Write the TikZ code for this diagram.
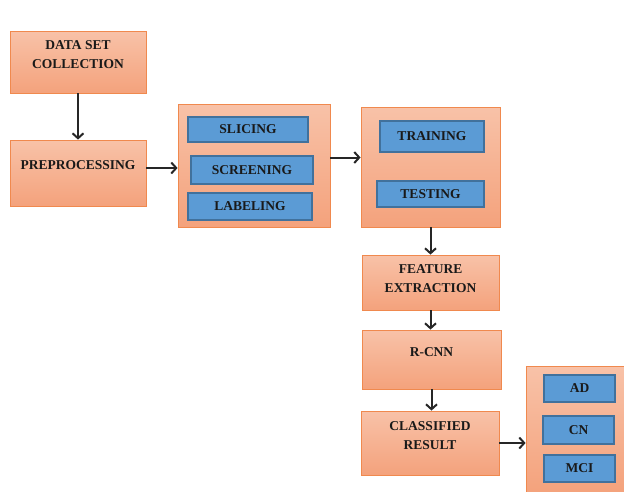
\documentclass[tikz,border=0pt]{standalone}
\usepackage{fontspec}
\setmainfont{Liberation Serif}
\usetikzlibrary{arrows.meta, positioning}

\definecolor{salmontop}{HTML}{F8C2A8}
\definecolor{salmonbot}{HTML}{F4A27C}
\definecolor{salmonline}{HTML}{F0894E}
\definecolor{stepblue}{HTML}{5B9BD5}
\definecolor{stepline}{HTML}{41719C}

\begin{document}
\begin{tikzpicture}[x=1pt, y=-1pt,
  obox/.style={draw=salmonline, line width=0.8pt, top color=salmontop, bottom color=salmonbot, inner sep=0pt},
  bbox/.style={draw=stepline, line width=1.2pt, fill=stepblue, inner sep=0pt, font=\bfseries\fontsize{13.5}{15}\selectfont, text=black!90},
  ttl/.style={anchor=center, yshift=-24pt, align=center, font=\bfseries\fontsize{13.5}{19}\selectfont, text=black!90},
  e/.style={-{Straight Barb[length=5pt, width=11pt]}, line width=2pt, black!85}]

  \useasboundingbox (0,0) rectangle (624,491);

  % left column
  \node[obox, minimum width=136pt, minimum height=62pt, label={[ttl]north:DATA SET\\COLLECTION}] (dsc) at (78,62) {};
  \node[obox, minimum width=136pt, minimum height=66pt, label={[ttl, yshift=-1pt]north:PREPROCESSING}] (pre) at (78,173) {};

  % segmentation group
  \node[obox, minimum width=152pt, minimum height=123pt] (segm) at (254,165.5) {};
  \node[bbox, minimum width=120pt, minimum height=25pt] (slic) at (248,129.5) {SLICING};
  \node[bbox, minimum width=122pt, minimum height=28pt] (scrn) at (252,170) {SCREENING};
  \node[bbox, minimum width=124pt, minimum height=27pt] (labl) at (250,206.5) {LABELING};

  % split group
  \node[obox, minimum width=139pt, minimum height=120pt] (split) at (430.5,167) {};
  \node[bbox, minimum width=104pt, minimum height=31pt] (train) at (432,136.5) {TRAINING};
  \node[bbox, minimum width=107pt, minimum height=26pt] (test) at (430.5,194) {TESTING};

  % right column
  \node[obox, minimum width=137pt, minimum height=55pt, label={[ttl]north:FEATURE\\EXTRACTION}] (feat) at (430.5,282.5) {};
  \node[obox, minimum width=139pt, minimum height=59pt, label={[ttl, yshift=2pt]north:R-CNN}] (rcnn) at (431.5,359.5) {};
  \node[obox, minimum width=138pt, minimum height=64pt, label={[ttl, yshift=-1pt]north:CLASSIFIED\\RESULT}] (cls) at (430,443) {};

  % output classes
  \node[obox, minimum width=102pt, minimum height=127pt] (outc) at (577,429.5) {};
  \node[bbox, minimum width=71pt, minimum height=27pt] (ad) at (579.5,388.5) {AD};
  \node[bbox, minimum width=71pt, minimum height=28pt] (cn) at (578.5,430) {CN};
  \node[bbox, minimum width=71pt, minimum height=27pt] (mci) at (579.5,468.5) {MCI};

  \draw[e] (dsc.south) -- (pre.north);
  \draw[e] ([yshift=5pt]pre.east) -- ([yshift=5pt]pre.east -| segm.west);
  \draw[e] ([yshift=8pt]segm.east) -- ([yshift=8pt]segm.east -| split.west);
  \draw[e] (split.south) -- (feat.north);
  \draw[e] (feat.south) -- (feat.south |- rcnn.north);
  \draw[e] (rcnn.south) -- (rcnn.south |- cls.north);
  \draw[e] (cls.east) -- (cls.east -| outc.west);
\end{tikzpicture}
\end{document}
